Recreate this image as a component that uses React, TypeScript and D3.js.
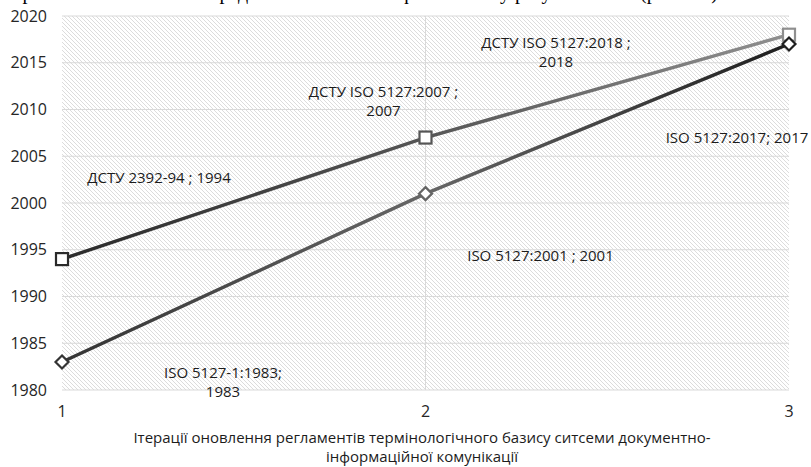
import React from "react";
import * as d3 from "d3";

const iterations = [1, 2, 3];
const dstuYears = [1994, 2007, 2018];
const isoYears = [1983, 2001, 2017];
const dstuLabels = [["ДСТУ 2392-94 ; 1994"], ["ДСТУ ISO 5127:2007 ;", "2007"], ["ДСТУ ISO 5127:2018 ;", "2018"]];
const isoLabels = [["ISO 5127-1:1983;", "1983"], ["ISO 5127:2001 ; 2001"], ["ISO 5127:2017; 2017"]];
const yTicks = [1980, 1985, 1990, 1995, 2000, 2005, 2010, 2015, 2020];
const axisTitle = ["Ітерації оновлення регламентів термінологічного базису ситсеми документно-", "інформаційної комунікації"];
const topTextPieces = [
  { x: 8, t: "Орієнтовна" },
  { x: 205, t: "Представлено" },
  { x: 400, t: "ф" },
  { x: 500, t: "у результаті" },
  { x: 640, t: "(рис. 1.2)" },
];

// label offsets (styles, not data): centre x / first line centre y relative to point
const dstuOffsets = [[97, -81], [-42, -46], [-233, 8.5]];
const isoOffsets = [[161, 11], [115, 62], [-52, 94]];

const W = 811, H = 467;
const FONT = "'Open Sans', 'Noto Sans', sans-serif";

export default function App() {
  const x = d3.scalePoint<number>().domain(iterations).range([62, 789]);
  const y = d3.scaleLinear().domain([1980, 2020]).range([390, 16]);
  const line = d3.line<[number, number]>().x(d => x(d[0])!).y(d => y(d[1]));
  const dstuPts: [number, number][] = iterations.map((it, i) => [it, dstuYears[i]]);
  const isoPts: [number, number][] = iterations.map((it, i) => [it, isoYears[i]]);
  const [x0, x1] = x.range();
  const y0 = y.range()[0], yTop = y.range()[1];

  const renderLabel = (lines: string[], px: number, py: number, off: number[], key: string) => (
    <text key={key} x={px + off[0]} y={py + off[1]} textAnchor="middle" fontFamily={FONT} fontSize={15} fill="#1c1c1c">
      {lines.map((l, j) => (
        <tspan key={j} x={px + off[0]} dy={j === 0 ? "0.35em" : 19}>{l}</tspan>
      ))}
    </text>
  );

  return (
    <svg width={W} height={H} style={{ position: "absolute", left: 0, top: 0, background: "#fff" }}>
      <defs>
        <pattern id="hatch" patternUnits="userSpaceOnUse" width={4} height={4}>
          <rect width={4} height={4} fill="#ffffff" />
          <path d="M-1,-1 L5,5 M-1,3 L1,5 M3,-1 L5,1" stroke="#d3d3d3" strokeWidth={0.8} />
        </pattern>
        <linearGradient id="gDstu" gradientUnits="userSpaceOnUse" x1={x0} y1={0} x2={x1} y2={0}>
          <stop offset="0" stopColor="#2a2a2a" />
          <stop offset="0.5" stopColor="#555555" />
          <stop offset="1" stopColor="#8f8f8f" />
        </linearGradient>
        <linearGradient id="gIso" gradientUnits="userSpaceOnUse" x1={x0} y1={0} x2={x1} y2={0}>
          <stop offset="0" stopColor="#333333" />
          <stop offset="0.5" stopColor="#666666" />
          <stop offset="1" stopColor="#1e1e1e" />
        </linearGradient>
      </defs>

      {topTextPieces.map((p, i) => (
        <text key={i} x={p.x} y={-1} fontFamily="'Liberation Serif', 'Times New Roman', serif" fontSize={20} fill="#000">{p.t}</text>
      ))}

      <rect x={x0} y={yTop} width={x1 - x0} height={y0 - yTop} fill="url(#hatch)" />
      {yTicks.map(t => (
        <line key={t} x1={x0} x2={x1} y1={y(t)} y2={y(t)} stroke="#d9d9d9" strokeWidth={1} />
      ))}
      <line x1={x(2)} x2={x(2)} y1={yTop} y2={y0} stroke="#d9d9d9" strokeWidth={1} />

      {yTicks.map(t => (
        <text key={t} x={47} y={y(t)} dy="0.35em" textAnchor="end" fontFamily={FONT} fontSize={16} fill="#262626">{t}</text>
      ))}
      {iterations.map(it => (
        <text key={it} x={x(it)} y={411} dy="0.35em" textAnchor="middle" fontFamily={FONT} fontSize={16} fill="#262626">{it}</text>
      ))}
      {axisTitle.map((l, i) => (
        <text key={i} x={422} y={438 + i * 19} dy="0.35em" textAnchor="middle" fontFamily={FONT} fontSize={15} fill="#1c1c1c">{l}</text>
      ))}

      <path d={line(dstuPts)!} fill="none" stroke="url(#gDstu)" strokeWidth={3.4} />
      <path d={line(isoPts)!} fill="none" stroke="url(#gIso)" strokeWidth={3.4} />

      {dstuPts.map((p, i) => (
        <rect key={"s" + i} x={x(p[0])! - 6} y={y(p[1]) - 6} width={12} height={12} fill="#fff" stroke="url(#gDstu)" strokeWidth={2.2} />
      ))}
      {isoPts.map((p, i) => {
        const cx = x(p[0])!, cy = y(p[1]);
        return <path key={"d" + i} d={`M${cx},${cy - 6.5}L${cx + 6.5},${cy}L${cx},${cy + 6.5}L${cx - 6.5},${cy}Z`} fill="#fff" stroke="url(#gIso)" strokeWidth={2.2} />;
      })}

      {dstuPts.map((p, i) => renderLabel(dstuLabels[i], x(p[0])!, y(p[1]), dstuOffsets[i], "ld" + i))}
      {isoPts.map((p, i) => renderLabel(isoLabels[i], x(p[0])!, y(p[1]), isoOffsets[i], "li" + i))}
    </svg>
  );
}
